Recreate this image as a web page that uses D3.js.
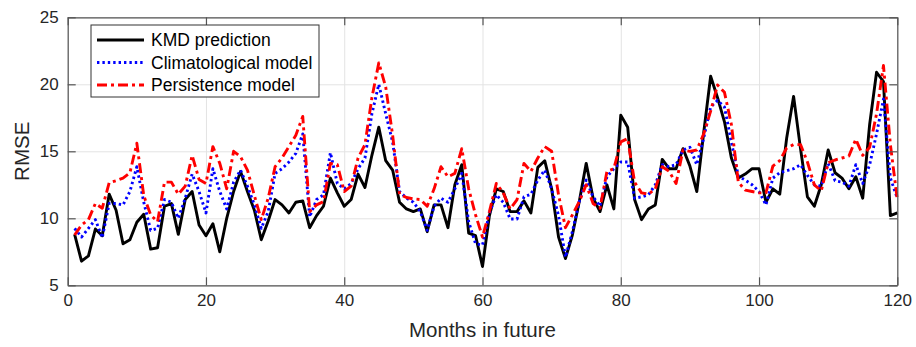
<!DOCTYPE html>
<html>
<head>
<meta charset="utf-8">
<script src="https://cdn.jsdelivr.net/npm/d3@7"></script>
<style>
  body { margin: 0; background: #fff; }
  svg text { font-family: "Liberation Sans", Arial, Helvetica, sans-serif; }
</style>
</head>
<body>
<svg width="916" height="347"></svg>
<script>
let width = 916, height = 347;

// months 1..120
let months = d3.range(1, 121);

let kmd = [8.8, 6.8, 7.2, 9.2, 8.7, 11.8, 10.6, 8.1, 8.4, 9.7,
  10.3, 7.7, 7.8, 10.9, 11.1, 8.8, 11.4, 12.0, 9.5, 8.7,
  9.6, 7.5, 10.0, 12.0, 13.5, 12.0, 10.6, 8.4, 9.8, 11.4,
  11.0, 10.4, 11.2, 11.3, 9.3, 10.2, 10.9, 13.0, 11.9, 10.9,
  11.4, 13.3, 12.3, 14.7, 16.8, 14.3, 13.6, 11.2, 10.7, 10.5,
  10.7, 9.0, 11.0, 11.0, 9.3, 12.5, 14.0, 8.9, 8.7, 6.4,
  10.2, 12.2, 12.0, 10.5, 10.5, 11.3, 10.4, 13.8, 14.3, 12.2,
  8.6, 7.0, 8.75, 11.25, 14.1, 11.5, 10.5, 12.5, 10.7, 17.7,
  16.8, 11.4, 9.9, 10.7, 11.0, 14.4, 13.7, 13.7, 15.2, 13.9,
  12.0, 16.4, 20.6, 19.0, 17.2, 14.5, 13.0, 13.3, 13.7, 13.7,
  11.2, 12.2, 11.8, 16.0, 19.1, 15.2, 11.6, 10.9, 12.5, 15.1,
  13.4, 13.0, 12.2, 13.1, 11.5, 17.0, 20.9, 20.2, 10.2, 10.4];

let clim = [9.25, 8.6, 9.25, 9.9, 8.55, 11.1, 11.1, 11.0, 12.0, 13.85,
  11.2, 9.1, 9.25, 11.4, 11.2, 10.0, 11.5, 13.3, 12.0, 10.4,
  13.7, 12.0, 10.7, 12.7, 13.6, 12.4, 11.0, 9.25, 10.5, 13.35,
  13.7, 14.2, 14.85, 16.3, 10.1, 11.4, 11.75, 14.9, 12.6, 12.2,
  12.6, 13.7, 14.5, 17.8, 20.0, 17.8, 15.7, 12.0, 11.5, 11.2,
  10.5, 9.1, 10.9, 11.5, 11.2, 12.2, 13.35, 9.75, 8.1, 8.0,
  10.4, 11.75, 11.2, 9.95, 9.95, 11.6, 11.8, 12.85, 13.6, 12.2,
  10.2, 7.1, 9.0, 11.25, 12.85, 11.6, 10.9, 13.1, 13.7, 14.2,
  14.2, 11.5, 11.6, 11.75, 12.5, 14.0, 13.85, 14.0, 15.1, 15.3,
  14.0, 16.0, 18.3, 18.8, 18.3, 15.7, 13.15, 12.85, 12.5, 12.0,
  11.0, 13.0, 13.4, 13.55, 13.7, 14.0, 13.2, 12.5, 12.4, 14.1,
  12.8, 12.7, 12.4, 14.0, 12.6, 14.0, 16.3, 18.9, 13.0, 11.5];

let pers = [8.75, 9.5, 9.9, 11.1, 10.75, 12.65, 12.8, 13.0, 13.4, 15.6,
  11.7, 10.25, 9.75, 12.7, 12.7, 11.8, 12.4, 14.7, 12.9, 12.6,
  15.35, 14.1, 12.2, 15.0, 14.6, 13.6, 11.7, 9.9, 11.5, 13.85,
  14.5, 15.35, 16.2, 17.6, 10.5, 11.0, 11.25, 14.1, 14.0, 12.0,
  12.4, 14.5, 15.5, 19.0, 21.6, 19.8, 16.2, 11.8, 11.55, 11.45,
  11.4, 10.9, 12.2, 13.85, 13.1, 13.35, 15.2, 12.2, 10.25, 8.6,
  10.5, 12.6, 11.9, 10.7, 11.4, 14.1, 13.5, 14.5, 15.35, 15.0,
  11.75, 9.3, 10.25, 11.25, 12.5, 11.1, 10.75, 13.5, 13.7, 15.7,
  15.95, 12.7, 11.9, 11.8, 12.2, 13.85, 13.5, 12.6, 15.1, 15.0,
  15.1, 16.3, 18.0, 19.95, 19.4, 17.0, 12.7, 12.1, 12.0, 11.9,
  11.9, 13.9, 14.3, 15.25, 15.5, 15.5, 14.2, 12.5, 12.05, 14.15,
  14.35, 14.5, 14.65, 15.9, 14.7, 15.3, 17.8, 21.4, 15.5, 11.4];

let xTicks = [0, 20, 40, 60, 80, 100, 120];
let yTicks = [5, 10, 15, 20, 25];

let seriesNames = ["KMD prediction", "Climatological model", "Persistence model"];

let svg = d3.select("svg");

let plotLeft = 67.7, plotRight = 897.3, plotTop = 17.3, plotBottom = 285.3;

let x = d3.scaleLinear().domain([0, 120]).range([plotLeft, plotRight]);
let y = d3.scaleLinear().domain([5, 25]).range([plotBottom, plotTop]);

// grid
svg.append("g")
    .attr("transform", "translate(0," + plotBottom + ")")
    .call(d3.axisBottom(x).tickValues(xTicks).tickSize(-(plotBottom - plotTop)).tickFormat(""))
    .call(g => g.select(".domain").remove())
    .selectAll("line").attr("stroke", "#e3e3e3").attr("stroke-width", 1);

svg.append("g")
    .attr("transform", "translate(" + plotLeft + ",0)")
    .call(d3.axisLeft(y).tickValues(yTicks).tickSize(-(plotRight - plotLeft)).tickFormat(""))
    .call(g => g.select(".domain").remove())
    .selectAll("line").attr("stroke", "#e3e3e3").attr("stroke-width", 1);

// lines
let line = d3.line()
    .x((d, i) => x(months[i]))
    .y(d => y(d));

let styles = [
    { data: kmd, color: "#000000", dash: null },
    { data: clim, color: "#0000ff", dash: "2.4,3" },
    { data: pers, color: "#ff0000", dash: "10,4,3,4" }
];

let plot = svg.append("g");
styles.forEach(s => {
    plot.append("path")
        .datum(s.data)
        .attr("fill", "none")
        .attr("stroke", s.color)
        .attr("stroke-width", 2.9)
        .attr("stroke-linejoin", "round")
        .attr("stroke-dasharray", s.dash)
        .attr("d", line);
});

// axes (box with inward ticks)
let axisColor = "#555";

let xAxis = svg.append("g")
    .attr("transform", "translate(0," + plotBottom + ")")
    .call(d3.axisBottom(x).tickValues(xTicks).tickSize(-8).tickSizeOuter(0).tickPadding(9));
let yAxis = svg.append("g")
    .attr("transform", "translate(" + plotLeft + ",0)")
    .call(d3.axisLeft(y).tickValues(yTicks).tickSize(-8).tickSizeOuter(0).tickPadding(9));
let xTop = svg.append("g")
    .attr("transform", "translate(0," + plotTop + ")")
    .call(d3.axisTop(x).tickValues(xTicks).tickSize(-8).tickSizeOuter(0).tickFormat(""));
let yRight = svg.append("g")
    .attr("transform", "translate(" + plotRight + ",0)")
    .call(d3.axisRight(y).tickValues(yTicks).tickSize(-8).tickSizeOuter(0).tickFormat(""));

[xAxis, yAxis, xTop, yRight].forEach(g => {
    g.selectAll(".domain, line").attr("stroke", axisColor).attr("stroke-width", 1.2);
    g.selectAll("text").attr("fill", "#262626").attr("font-size", 17);
});

// axis titles
svg.append("text")
    .attr("x", (plotLeft + plotRight) / 2)
    .attr("y", 337)
    .attr("text-anchor", "middle")
    .attr("font-size", 20.5)
    .attr("fill", "#262626")
    .text("Months in future");

svg.append("text")
    .attr("transform", "translate(29," + ((plotTop + plotBottom) / 2) + ") rotate(-90)")
    .attr("text-anchor", "middle")
    .attr("font-size", 20.5)
    .attr("fill", "#262626")
    .text("RMSE");

// legend
let legend = svg.append("g");
legend.append("rect")
    .attr("x", 91).attr("y", 25)
    .attr("width", 228).attr("height", 72)
    .attr("fill", "#fff")
    .attr("stroke", "#333")
    .attr("stroke-width", 1);

styles.forEach((s, i) => {
    let ly = 40 + i * 22.5;
    legend.append("line")
        .attr("x1", 97).attr("x2", 144)
        .attr("y1", ly).attr("y2", ly)
        .attr("stroke", s.color)
        .attr("stroke-width", 2.9)
        .attr("stroke-dasharray", s.dash);
    legend.append("text")
        .attr("x", 151)
        .attr("y", ly)
        .attr("dy", "0.35em")
        .attr("font-size", 17.5)
        .attr("fill", "#000")
        .text(seriesNames[i]);
});
</script>
</body>
</html>
